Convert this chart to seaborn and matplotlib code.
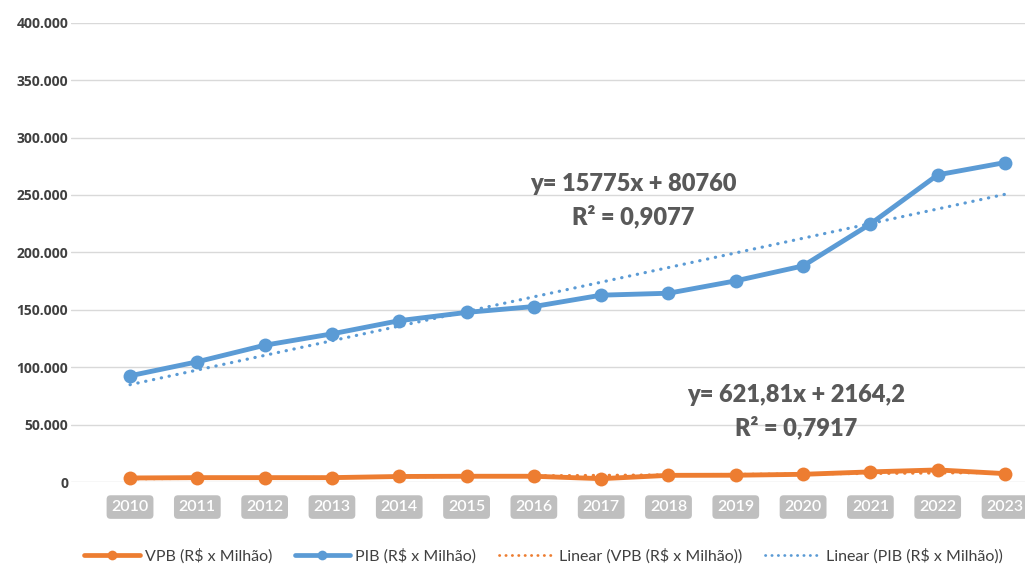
import numpy as np
import pandas as pd
import matplotlib
matplotlib.use("Agg")
import matplotlib.pyplot as plt
import seaborn as sns
from matplotlib.ticker import FuncFormatter
from matplotlib.lines import Line2D

# ---- data ----
years = [2010, 2011, 2012, 2013, 2014, 2015, 2016, 2017, 2018, 2019, 2020, 2021, 2022, 2023]
vpb = [3500, 3800, 3800, 3800, 4800, 5000, 5000, 2900, 5800, 5900, 6700, 8800, 10500, 7300]
pib = [92500, 104700, 119100, 129000, 140500, 147700, 152800, 162700, 164400, 175200,
       188200, 224700, 267500, 278200]
y_ticks = [0, 50000, 100000, 150000, 200000, 250000, 300000, 350000, 400000]
lbl_vpb = "VPB (R$ x Milhão)"
lbl_pib = "PIB (R$ x Milhão)"
eq_pib = ["y= 15775x + 80760", "R² = 0,9077"]
eq_vpb = ["y= 621,81x + 2164,2", "R² = 0,7917"]

ORANGE = "#ED7D31"
BLUE = "#5B9BD5"
TXT = "#595959"

sns.set_style("white")
plt.rcParams["font.family"] = ["Lato", "DejaVu Sans"]

df = pd.DataFrame({"year": years, "VPB": vpb, "PIB": pib})

fig = plt.figure(figsize=(10.25, 5.66), dpi=100)
ax = fig.add_axes([71 / 1025, 1 - 482 / 566, 1 - 71 / 1025, (482 - 22.7) / 566])

line_kw = dict(linewidth=3.5, marker="o", markersize=10, markeredgewidth=0)
sns.lineplot(data=df, x="year", y="VPB", ax=ax, color=ORANGE, label=lbl_vpb,
             clip_on=False, zorder=3, **line_kw)
sns.lineplot(data=df, x="year", y="PIB", ax=ax, color=BLUE, label=lbl_pib,
             clip_on=False, zorder=3, **line_kw)

dot_kw = dict(linewidth=2.3, linestyle=(0, (0.1, 2.4)), dash_capstyle="round", zorder=4)
sns.regplot(data=df, x="year", y="VPB", ax=ax, scatter=False, ci=None,
            color=ORANGE, line_kws=dict(dot_kw, label="Linear (" + lbl_vpb + ")"))
sns.regplot(data=df, x="year", y="PIB", ax=ax, scatter=False, ci=None,
            color=BLUE, line_kws=dict(dot_kw, label="Linear (" + lbl_pib + ")"))

ax.set_xlim(years[0] - 0.877, years[-1] + 0.297)
ax.set_ylim(0, 400000)
ax.set_yticks(y_ticks)
ax.yaxis.set_major_formatter(FuncFormatter(lambda v, p: f"{int(v):,}".replace(",", ".")))
ax.grid(axis="y", color="#d9d9d9", linewidth=1)
ax.grid(axis="x", visible=False)
for s in ax.spines.values():
    s.set_visible(False)
ax.set_xlabel("")
ax.set_ylabel("")

ax.set_xticks(years)
ax.set_xticklabels([str(y) for y in years])
ax.tick_params(axis="x", length=0, pad=13, labelsize=11.5, labelcolor="white",
               labelfontfamily="Lato")
ax.tick_params(axis="y", length=0, pad=2, labelsize=10, labelcolor="#404040",
               labelfontfamily="Open Sans")
for t in ax.get_xticklabels():
    t.set_fontweight("semibold")
    t.set_bbox(dict(boxstyle="round,pad=0.3,rounding_size=0.25", fc="#bfbfbf", ec="none"))
for t in ax.get_yticklabels():
    t.set_fontweight("bold")

# trendline equations
def ftext(px, py, s):
    fig.text(px / 1025, 1 - py / 566, s, ha="center", va="center", fontsize=17,
             fontweight="heavy", color=TXT)

ftext(633, 184, eq_pib[0])
ftext(633, 216, eq_pib[1])
ftext(796, 395, eq_vpb[0])
ftext(796, 427, eq_vpb[1])

if ax.legend_:
    ax.legend_.remove()
handles = [
    Line2D([0, 0.5, 1], [0, 0, 0], color=ORANGE, lw=3.4, marker="o", markersize=7,
           markevery=[1], markeredgewidth=0),
    Line2D([0, 0.5, 1], [0, 0, 0], color=BLUE, lw=3.4, marker="o", markersize=7,
           markevery=[1], markeredgewidth=0),
    Line2D([], [], color=ORANGE, lw=2.0, linestyle=(0, (0.1, 2.2)), dash_capstyle="round"),
    Line2D([], [], color=BLUE, lw=2.0, linestyle=(0, (0.1, 2.2)), dash_capstyle="round"),
]
labels = [lbl_vpb, lbl_pib, "Linear (" + lbl_vpb + ")", "Linear (" + lbl_pib + ")"]
fig.legend(handles, labels, loc="center", bbox_to_anchor=(0.53, 1 - 556 / 566), ncol=4,
           frameon=False, fontsize=11.5, handlelength=3.5, handletextpad=0.3,
           columnspacing=1.4, labelcolor="#404040")

fig.savefig("out.png", dpi=100)
